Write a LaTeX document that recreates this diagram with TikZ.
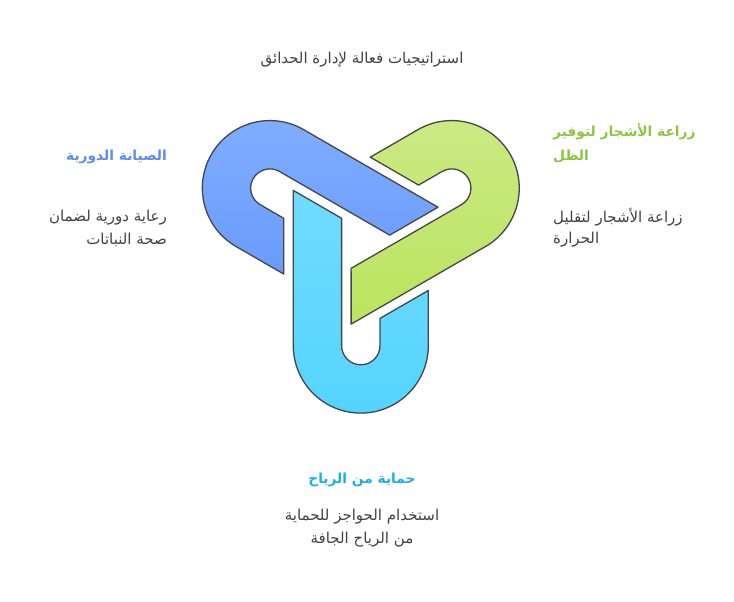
\documentclass[tikz,border=0pt]{standalone}
\usepackage{fontspec}
\newfontfamily\arfont[Script=Arabic]{DejaVu Sans}
\TeXXeTstate=1
\definecolor{edge}{HTML}{464646}
\definecolor{txt}{HTML}{424242}
\definecolor{hblue}{HTML}{5A8DEE}
\definecolor{hgreen}{HTML}{8CC63F}
\definecolor{hcyan}{HTML}{1DB0E6}
\definecolor{blueA}{HTML}{80AEFF}
\definecolor{blueB}{HTML}{6A9BFD}
\definecolor{greenA}{HTML}{CCEA86}
\definecolor{greenB}{HTML}{BBE35E}
\definecolor{cyanA}{HTML}{70DCFD}
\definecolor{cyanB}{HTML}{55D4FE}
\tikzset{
  band/.style={draw=edge, line width=1.3pt, line join=round},
  hairpin/.pic={
    \path[pic actions] (-67.5,50.17) -- (-67.5,-105)
      arc[start angle=180, end angle=360, radius=67.5]
      -- (67.5,-49.9) -- (19.2,-77.8) -- (19.2,-105)
      arc[start angle=0, end angle=-180, radius=19.2]
      -- (-19.2,22.29) -- cycle;
  },
  body/.style={text=txt, font=\arfont\fontsize{15}{18}\selectfont, inner sep=0pt},
  head/.style={font=\arfont\bfseries\fontsize{13.8}{16}\selectfont, inner sep=0pt}
}
\begin{document}
\begin{tikzpicture}[x=1pt,y=1pt]
\useasboundingbox (0,0) rectangle (734,602);
\fill[white] (0,0) rectangle (734,602);
\coordinate (C) at (360.8,361.4);
% blue (rotated -120)
\pic[band, top color=blueA, bottom color=blueB, shading angle=0] at (C) [rotate=-120] {hairpin};
% green (rotated +120)
\pic[band, top color=greenA, bottom color=greenB, shading angle=0] at (C) [rotate=120] {hairpin};
% cyan
\pic[band, top color=cyanA, bottom color=cyanB] at (C) {hairpin};

\node[body, anchor=center] (title) at (362,542) {\beginR استراتيجيات فعالة لإدارة الحدائق\endR};

\node[head, text=hblue, anchor=east] (lh) at (167,445) {\beginR الصيانة الدورية\endR};
\node[body, anchor=east] (lb1) at (167,384) {\beginR رعاية دورية لضمان\endR};
\node[body, anchor=east] (lb2) at (167,362) {\beginR صحة النباتات\endR};

\node[head, text=hgreen, anchor=west] (rh1) at (553,470) {\beginR زراعة الأشجار لتوفير\endR};
\node[head, text=hgreen, anchor=west] (rh2) at (553,445) {\beginR الظل\endR};
\node[body, anchor=west] (rb1) at (553,385) {\beginR زراعة الأشجار لتقليل\endR};
\node[body, anchor=west] (rb2) at (553,362) {\beginR الحرارة\endR};

\node[head, text=hcyan, anchor=center] (bh) at (362,122) {\beginR حماية من الرياح\endR};
\node[body, anchor=center] (bb1) at (362,85) {\beginR استخدام الحواجز للحماية\endR};
\node[body, anchor=center] (bb2) at (362,62) {\beginR من الرياح الجافة\endR};
\end{tikzpicture}
\end{document}
